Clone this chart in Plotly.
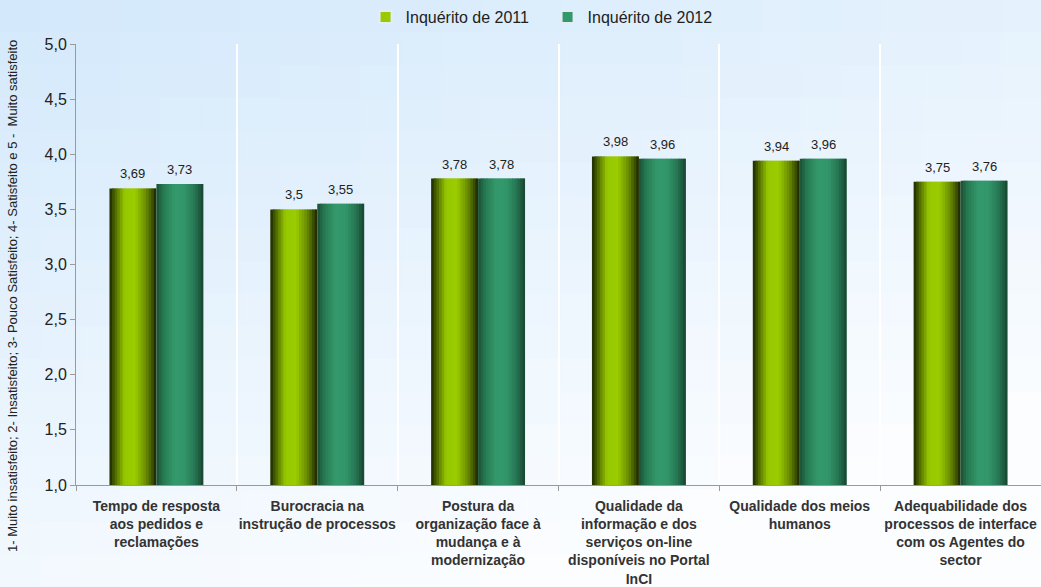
import plotly.graph_objects as go

categories = [
    "Tempo de resposta<br>aos pedidos e<br>reclamações",
    "Burocracia na<br>instrução de processos",
    "Postura da<br>organização face à<br>mudança e à<br>modernização",
    "Qualidade da<br>informação e dos<br>serviços on-line<br>disponíveis no Portal<br>InCI",
    "Qualidade dos meios<br>humanos",
    "Adequabilidade dos<br>processos de interface<br>com os Agentes do<br>sector",
]
series_names = ["Inquérito de 2011", "Inquérito de 2012"]
values_2011 = [3.69, 3.50, 3.78, 3.98, 3.94, 3.75]
values_2012 = [3.73, 3.55, 3.78, 3.96, 3.96, 3.76]
labels_2011 = ["3,69", "3,5", "3,78", "3,98", "3,94", "3,75"]
labels_2012 = ["3,73", "3,55", "3,78", "3,96", "3,96", "3,76"]
y_title = "1- Muito insatisfeito; 2- Insatisfeito; 3- Pouco Satisfeito; 4- Satisfeito e 5 -  Muito satisfeito"

# styles
FONT = "Liberation Sans"
BW = 0.292
NSLICE = 18
W, H = 1041, 587
L, T, B = 76, 44, 102
pw, ph = W - L, H - T - B
px_per_cat = pw / 6.0
stops_2011 = [(0.0, "#1c2600"), (0.12, "#4d6800"), (0.32, "#97c800"), (0.55, "#9acc00"),
              (0.78, "#6a8c00"), (0.92, "#3a4d00"), (1.0, "#182000")]
stops_2012 = [(0.0, "#1c4e36"), (0.15, "#267a52"), (0.38, "#33996b"), (0.6, "#32966a"),
              (0.82, "#267552"), (1.0, "#184530")]


def hex2rgb(h):
    h = h.lstrip("#")
    return tuple(int(h[i:i + 2], 16) for i in (0, 2, 4))


def interp(stops, t):
    for (t0, c0), (t1, c1) in zip(stops[:-1], stops[1:]):
        if t0 <= t <= t1:
            f = (t - t0) / (t1 - t0) if t1 > t0 else 0
            a, b = hex2rgb(c0), hex2rgb(c1)
            return "rgb(%d,%d,%d)" % tuple(round(a[i] + (b[i] - a[i]) * f) for i in range(3))
    return stops[-1][1]


fig = go.Figure()
annotations = []

for si, (name, vals, labs, stops, start) in enumerate([
    (series_names[0], values_2011, labels_2011, stops_2011, -BW),
    (series_names[1], values_2012, labels_2012, stops_2012, 0.0),
]):
    sw = BW / NSLICE
    for k in range(NSLICE):
        t = (k + 0.5) / NSLICE
        w = min(sw * 1.8, BW - k * sw)
        fig.add_trace(go.Bar(
            x=categories, y=vals, width=w, offset=start + k * sw,
            marker=dict(color=interp(stops, t), line=dict(width=0)),
            showlegend=False, hoverinfo="skip",
        ))
    # legend entry
    fig.add_trace(go.Bar(
        x=[categories[0]], y=[None], name=name,
        marker=dict(color=interp(stops, 0.45)),
        showlegend=True,
    ))
    # value labels
    for c, v, lab in zip(categories, vals, labs):
        annotations.append(dict(
            x=c, y=v, xref="x", yref="y", text=lab, showarrow=False,
            xshift=(start + BW / 2) * px_per_cat, yshift=5,
            xanchor="center", yanchor="bottom",
            font=dict(size=13, color="#222222", family=FONT),
        ))

annotations.append(dict(
    text=y_title, textangle=-90, xref="paper", yref="paper",
    x=(12 - L) / pw, y=(H - B - 296) / ph, showarrow=False,
    font=dict(size=13, color="#222222", family=FONT), xanchor="center", yanchor="middle",
))

# background gradient
shapes = []
NX, NY = 26, 18
c0, c1 = hex2rgb("#d2e8fb"), hex2rgb("#fbfdff")
for i in range(NX):
    for j in range(NY):
        px0, px1 = W * i / NX, W * (i + 1) / NX
        py0, py1 = H * j / NY, H * (j + 1) / NY
        xf = (i + 0.5) / NX
        yf = (j + 0.5) / NY
        t = min(1.0, 0.8 * yf + 0.45 * xf)
        col = "rgb(%d,%d,%d)" % tuple(round(c0[q] + (c1[q] - c0[q]) * t) for q in range(3))
        shapes.append(dict(
            type="rect", xref="paper", yref="paper", layer="below",
            x0=(px0 - L) / pw, x1=(px1 - L) / pw + 0.002,
            y0=(H - B - py1) / ph - 0.002, y1=(H - B - py0) / ph,
            fillcolor=col, line=dict(width=0),
        ))

fig.update_layout(
    width=W, height=H,
    margin=dict(l=L, r=0, t=T, b=B, autoexpand=False),
    barmode="overlay",
    separators=", ",
    paper_bgcolor="#e8f4fd",
    plot_bgcolor="rgba(0,0,0,0)",
    shapes=shapes,
    annotations=annotations,
    font=dict(family=FONT, color="#222222"),
    legend=dict(
        orientation="h", x=0.526, xref="container", xanchor="center",
        y=1.0, yref="container", yanchor="top",
        font=dict(size=16, color="#222222", family=FONT), bgcolor="rgba(0,0,0,0)",
        entrywidth=137, itemsizing="constant",
    ),
    showlegend=True,
)

fig.update_xaxes(
    type="category", tickson="boundaries", showgrid=True, gridcolor="#ffffff", gridwidth=1.5,
    showline=True, linecolor="#9a9a9a", linewidth=1,
    ticks="outside", ticklen=5, tickcolor="#9a9a9a",
    tickfont=dict(size=14, color="#333333", family=FONT, weight="bold"),
    tickangle=0, range=[-0.5, 5.5], automargin=False, ticklabelstandoff=8,
)
fig.update_yaxes(
    range=[1, 5], dtick=0.5, tick0=1, tickformat=".1f", showgrid=False,
    showline=True, linecolor="#9a9a9a", linewidth=1,
    ticks="outside", ticklen=5, tickcolor="#9a9a9a",
    tickfont=dict(size=16, color="#222222", family=FONT), zeroline=False, automargin=False,
)

fig.write_html(
    "out.html",
    config={"displayModeBar": False},
    post_script="document.body.style.margin='0px';document.body.style.overflow='hidden';",
)
